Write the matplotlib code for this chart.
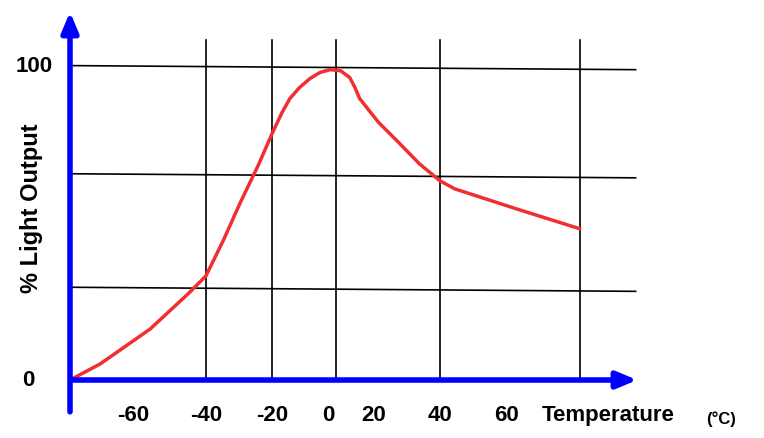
import numpy as np
import matplotlib.pyplot as plt

plt.rcParams["font.family"] = "Liberation Sans"

temps = [-86.5, -76.2, -59.1, -46, -40, -34, -28.4, -22, -17.4, -14, -11.3, -8, -4.4, -1, 2.4, 6, 9.2, 11, 12.6, 19, 26.3, 33, 40, 45.1, 66, 87.9]
light = [0, 5.1, 16.2, 27.5, 33.1, 44.5, 56.1, 68.5, 78.3, 85, 89.5, 93, 95.9, 97.8, 98.7, 98.4, 96.2, 93, 89.5, 82, 75.2, 68.8, 63.4, 60.8, 54.5, 48.1]
vgrid = [-40, -17.4, 4.4, 40, 87.9]
hgrid = [(100, 98.7), (65.6, 64.3), (29.5, 28.2)]
xtick_labels = ["-60", "-40", "-20", "0", "20", "40", "60"]
xtick_pos = [-65, -40, -17.5, 2, 17.5, 40, 63]

fig = plt.figure(figsize=(7.64, 4.39), dpi=100)
x0, x1 = -86.5, 108.5
y0, y1 = 0, 118
ax = fig.add_axes([70/764, 58/439, 570/764, 371/439])
ax.set_xlim(x0, x1)
ax.set_ylim(y0, y1)
ax.axis("off")

for v in vgrid:
    ax.plot([v, v], [0, 108], color="black", lw=1.2)
for a, b in hgrid:
    ax.plot([x0, 107], [a, b], color="black", lw=1.2)

ax.plot(temps, light, color="#f03030", lw=2.5, solid_capstyle="round", solid_joinstyle="round")

ax.annotate("", xy=(x1, 0), xytext=(x0, 0),
            arrowprops=dict(arrowstyle="-|>,head_width=0.5,head_length=1.2", color="blue", lw=4),
            annotation_clip=False)
ax.annotate("", xy=(x0, y1), xytext=(x0, -11),
            arrowprops=dict(arrowstyle="-|>,head_width=0.5,head_length=1.2", color="blue", lw=4),
            annotation_clip=False)

for lab, p in zip(xtick_labels, xtick_pos):
    ax.text(p, -11, lab, ha="center", va="center", fontsize=16, fontweight="bold", clip_on=False)
ax.text(x0 - 6, 100, "100", ha="right", va="center", fontsize=16, fontweight="bold", clip_on=False)
ax.text(x0 - 12, 0, "0", ha="right", va="center", fontsize=16, fontweight="bold", clip_on=False)
ax.text(x0 - 13, 55, "% Light Output", rotation=90, ha="center", va="center",
        fontsize=17, fontweight="bold", clip_on=False)
ax.text(75, -11, "Temperature", ha="left", va="center", fontsize=16, fontweight="bold", clip_on=False)
ax.text(131, -12, "(°C)", ha="left", va="center", fontsize=12, fontweight="bold", clip_on=False)

fig.savefig("out.png", dpi=100)
